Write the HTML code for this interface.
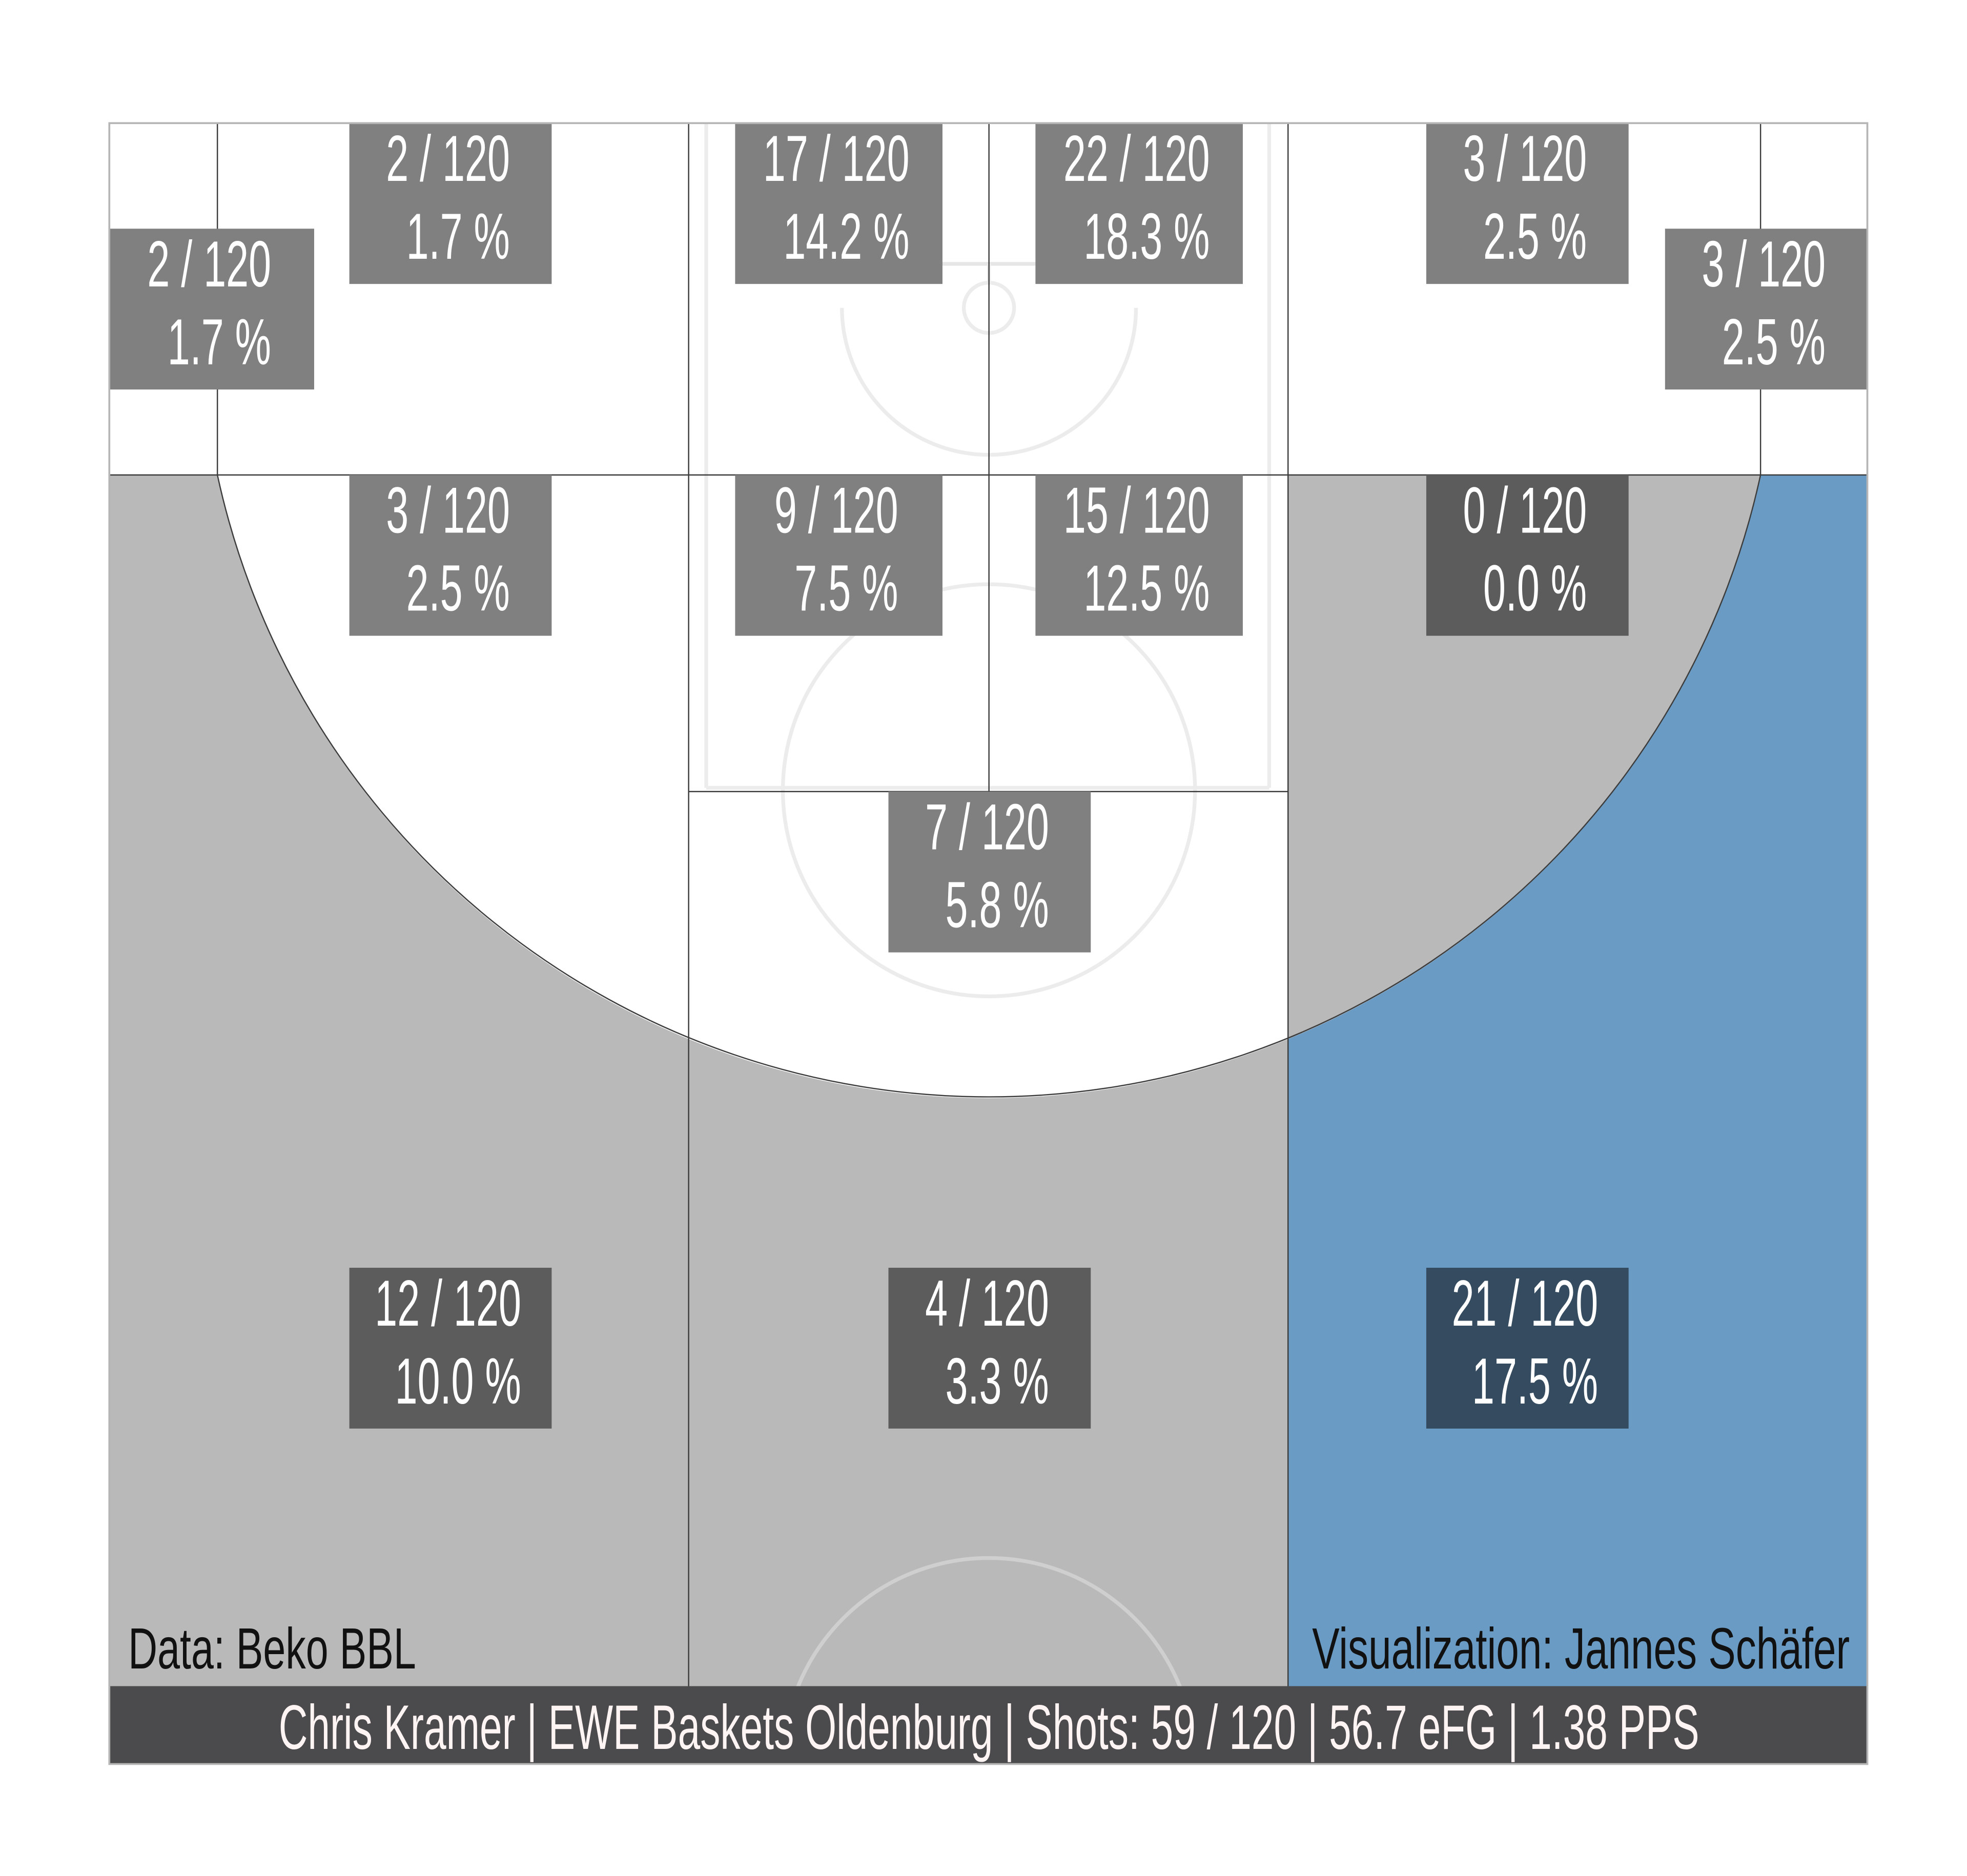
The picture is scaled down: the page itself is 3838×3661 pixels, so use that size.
<!DOCTYPE html>
<html>
<head>
<meta charset="utf-8">
<style>
  html,body{margin:0;padding:0;background:#fff;overflow:hidden;width:3838px;height:3661px;}
  svg{display:block;}
  text{font-family:"Liberation Sans",sans-serif;}
</style>
</head>
<body>
<svg id="chart" xmlns="http://www.w3.org/2000/svg" width="3838" height="3661" viewBox="0 0 1565.3 1493.1">
  <defs>
    <clipPath id="courtClip"><rect x="87" y="98" width="1399" height="1244"/></clipPath>
  </defs>
  <rect x="0" y="0" width="1565.3" height="1493.1" fill="#ffffff"/>
  <g id="zones"></g>
  <g id="court" fill="none" stroke="#ececec" stroke-width="3" clip-path="url(#courtClip)">
    <line x1="562" y1="98" x2="562" y2="627"/>
    <line x1="1010" y1="98" x2="1010" y2="627"/>
    <line x1="562" y1="627" x2="1010" y2="627"/>
    <line x1="716" y1="210" x2="857" y2="210" stroke="#e6e6e6"/>
    <line x1="787" y1="210" x2="787" y2="224"/>
    <circle cx="787" cy="245" r="20"/>
    <path d="M 670 245 A 117 117 0 0 0 904 245"/>
    <circle cx="787" cy="629" r="164"/>
    <circle cx="787" cy="1404" r="164" stroke="#cfcfcf"/>
  </g>
  <g id="zone-lines" fill="none" stroke="#3c3c3c" stroke-width="1">
    <line x1="173" y1="98" x2="173" y2="378"/>
    <line x1="1401" y1="98" x2="1401" y2="378"/>
    <line x1="548" y1="98" x2="548" y2="1342"/>
    <line x1="1025" y1="98" x2="1025" y2="1342"/>
    <line x1="787" y1="98" x2="787" y2="630"/>
    <line x1="87" y1="378" x2="1486" y2="378"/>
    <line x1="548" y1="630" x2="1025" y2="630"/>
    <line x1="87" y1="98" x2="1486" y2="98"/>
    <path d="M 173 378 A 628.3 628.3 0 0 0 1401 378"/>
  </g>
  <g id="labels"></g>
  <rect x="87" y="1342" width="1399" height="62" fill="#4b4b4d"/>
  <text x="787" y="1392" text-anchor="middle" font-size="50" fill="#fff4f4" transform="translate(787,0) scale(0.64,1) translate(-787,0)">Chris Kramer | EWE Baskets Oldenburg | Shots: 59 / 120 | 56.7 eFG | 1.38 PPS</text>
  <text x="102" y="1328" font-size="46" fill="#111" transform="translate(102,0) scale(0.70,1) translate(-102,0)">Data: Beko BBL</text>
  <text x="1472" y="1328" text-anchor="end" font-size="46" fill="#111" transform="translate(1472,0) scale(0.71,1) translate(-1472,0)">Visualization: Jannes Schäfer</text>
  <rect x="87" y="98" width="1399" height="1306" fill="none" stroke="#b5b5b5" stroke-width="1.5"/>
</svg>
<script>
// data
const zoneNames = ["left-corner","left-wing-top","paint-top-left","paint-top-right","right-wing-top","right-corner","left-mid","paint-low-left","paint-low-right","right-mid","free-throw","left-three","center-three","right-three"];
const zoneMade = [2,2,17,22,3,3,3,9,15,0,7,12,4,21];
const zoneTotal = [120,120,120,120,120,120,120,120,120,120,120,120,120,120];
const zonePct = ["1.7","1.7","14.2","18.3","2.5","2.5","2.5","7.5","12.5","0.0","5.8","10.0","3.3","17.5"];
// layout (not data): box position per zone and box tint
const boxX = [87,278,585,824,1135,1325,278,585,824,1135,707,278,707,1135];
const boxY = [182,98,98,98,98,182,378,378,378,378,630,1009,1009,1009];
const boxW = [163,161,165,165,161,161,161,165,165,161,161,161,161,161];
const boxFill = ["#808080","#808080","#808080","#808080","#808080","#808080","#808080","#808080","#808080","#5c5c5c","#808080","#5c5c5c","#5c5c5c","#344b60"];

const NS = "http://www.w3.org/2000/svg";
const zones = document.getElementById('zones');
function zpath(d, fill, name){
  const p = document.createElementNS(NS,'path');
  p.setAttribute('d', d);
  p.setAttribute('fill', fill);
  
  
  zones.appendChild(p);
}
const R = 628.3;
zpath(`M87 378 L173 378 A ${R} ${R} 0 0 0 548 827 L548 1342 L87 1342 Z`, "#b9b9b9", "left-three-zone");
zpath(`M548 827 A ${R} ${R} 0 0 0 1025 827 L1025 1342 L548 1342 Z`, "#b9b9b9", "center-three-zone");
zpath(`M1025 378 L1401 378 A ${R} ${R} 0 0 1 1025 827 Z`, "#b9b9b9", "right-mid-zone");
zpath(`M1401 378 L1486 378 L1486 1342 L1025 1342 L1025 827 A ${R} ${R} 0 0 0 1401 378 Z`, "#6a9bc5", "right-three-zone");

const labels = document.getElementById('labels');
for (let i = 0; i < zoneMade.length; i++) {
  const g = document.createElementNS(NS,'g');
  
  
  const r = document.createElementNS(NS,'rect');
  r.setAttribute('x', boxX[i]); r.setAttribute('y', boxY[i]);
  r.setAttribute('width', boxW[i]); r.setAttribute('height', 128);
  r.setAttribute('fill', boxFill[i]);
  
  
  g.appendChild(r);
  const cx = boxX[i] + boxW[i]/2;
  const lines = [[zoneMade[i] + " / " + zoneTotal[i], cx - 2, boxY[i] + 46], [zonePct[i] + " %", cx + 6, boxY[i] + 108]];
  lines.forEach((ln, k) => {
    const t = document.createElementNS(NS,'text');
    t.textContent = ln[0];
    t.setAttribute('x', ln[1]); t.setAttribute('y', ln[2]);
    t.setAttribute('text-anchor', 'middle');
    t.setAttribute('font-size', '52');
    t.setAttribute('fill', '#ffffff');
    t.setAttribute('transform', `translate(${ln[1]},0) scale(0.62,1) translate(${-ln[1]},0)`);
    
    
    g.appendChild(t);
  });
  labels.appendChild(g);
}
</script>
</body>
</html>
